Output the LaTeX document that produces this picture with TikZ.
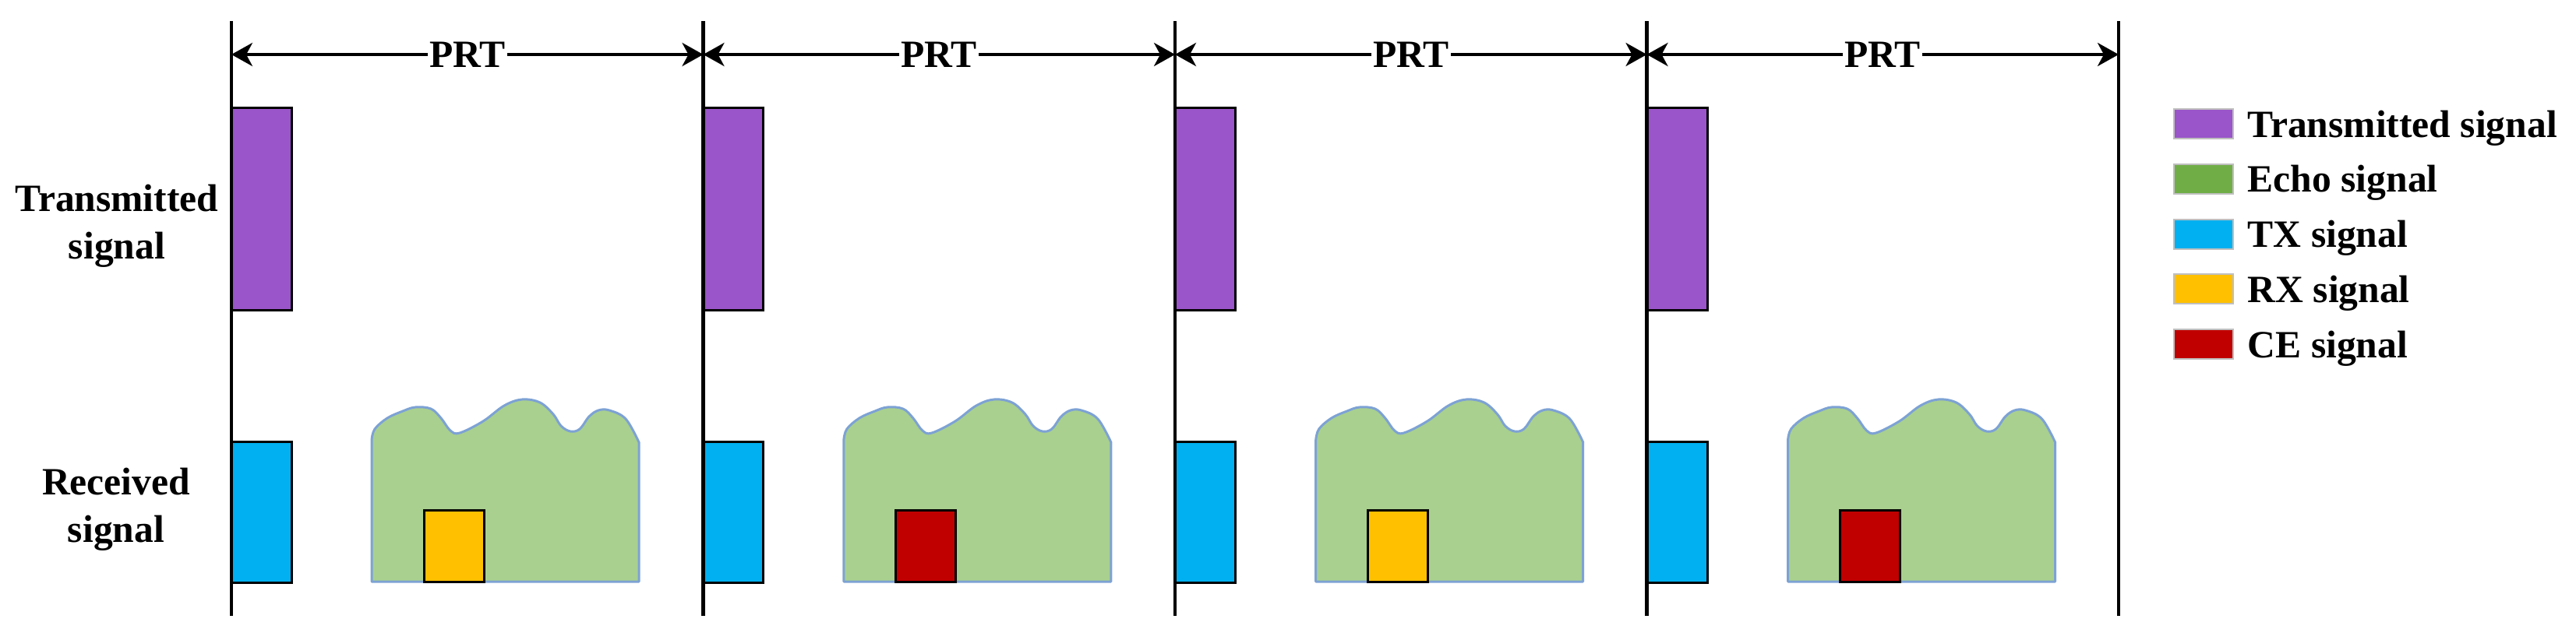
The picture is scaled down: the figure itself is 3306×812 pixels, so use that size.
\documentclass[tikz,border=0pt]{standalone}
\usepackage{fontspec}
\setmainfont{Liberation Serif}
\usetikzlibrary{arrows.meta}
\definecolor{purp}{HTML}{9955C9}
\definecolor{echofill}{HTML}{A9D08E}
\definecolor{echoline}{HTML}{7DA2D4}
\definecolor{echoleg}{HTML}{70AD47}
\definecolor{txcol}{HTML}{00B0F0}
\definecolor{rxcol}{HTML}{FFC000}
\definecolor{cecol}{HTML}{C00000}
\definecolor{leggray}{HTML}{BFBFBF}
\begin{document}
\begin{tikzpicture}[x=0.01cm,y=-0.01cm,
  every node/.style={font=\fontsize{14.1pt}{17.4pt}\selectfont\bfseries},
  vline/.style={line width=0.045cm, line cap=butt},
  dimline/.style={line width=0.035cm, {Stealth[length=0.27cm,width=0.30cm,inset=0.08cm]}-{Stealth[length=0.27cm,width=0.30cm,inset=0.08cm]}},
  sigbox/.style={draw=black, line width=0.03cm},
  echoshape/.style={fill=echofill, draw=echoline, line width=0.03cm, line join=round},
  legbox/.style={draw=leggray, line width=0.02cm},
  prtlabel/.style={fill=white, inner xsep=0.025cm, inner ysep=0.02cm}]
\useasboundingbox (0,0) rectangle (3306,812);

% periods: signal boxes and echoes
\foreach \i/\c in {0/rxcol,1/cecol,2/rxcol,3/cecol}{
  \begin{scope}[xshift={\i*6.055cm}]
    \draw[sigbox, fill=purp] (297,138) rectangle (374,398);
    \draw[sigbox, fill=txcol] (297,567) rectangle (374,748);
    \path[echoshape] (477,747) -- (477,565)
      -- plot[smooth, tension=0.6] coordinates {(477,565) (481,551) (497,537) (517,528) (533,523) (553,525) (566,537) (578,553) (590,556) (620,541) (647,521) (670,513) (693,517) (710,532) (720,547) (732,554) (744,551) (756,535) (768,527) (782,527) (803,538) (820,568)}
      -- (820,747) -- cycle;
    \draw[sigbox, fill=\c] (544,655) rectangle (621,747);
  \end{scope}
}

% vertical time markers
\foreach \i in {0,...,4}{
  \pgfmathsetmacro{\xx}{297+605.5*\i}
  \coordinate (t\i) at (\xx,27);
  \coordinate (b\i) at (\xx,791);
  \coordinate (a\i) at (\xx,70);
  \draw[vline] (t\i) -- (b\i);
}

% PRT dimension arrows
\foreach \i/\j in {0/1,1/2,2/3,3/4}{
  \draw[dimline] (a\i) -- (a\j) node[midway, prtlabel] (prt\i) {PRT};
}

% row labels
\node[align=center] (lblt) at (150,290) {Transmitted\\signal};
\node[align=center] (lblr) at (149,654) {Received\\signal};

% legend
\foreach \k/\c/\t in {0/purp/Transmitted signal,1/echoleg/Echo signal,2/txcol/TX signal,3/rxcol/RX signal,4/cecol/CE signal}{
  \pgfmathsetmacro{\yt}{140+70.8*\k}
  \draw[legbox, fill=\c] (2790,\yt) rectangle ++(76,38);
  \node[anchor=base west, inner sep=0pt] (leg\k) at (2884,\yt+36) {\t};
}
\end{tikzpicture}
\end{document}
